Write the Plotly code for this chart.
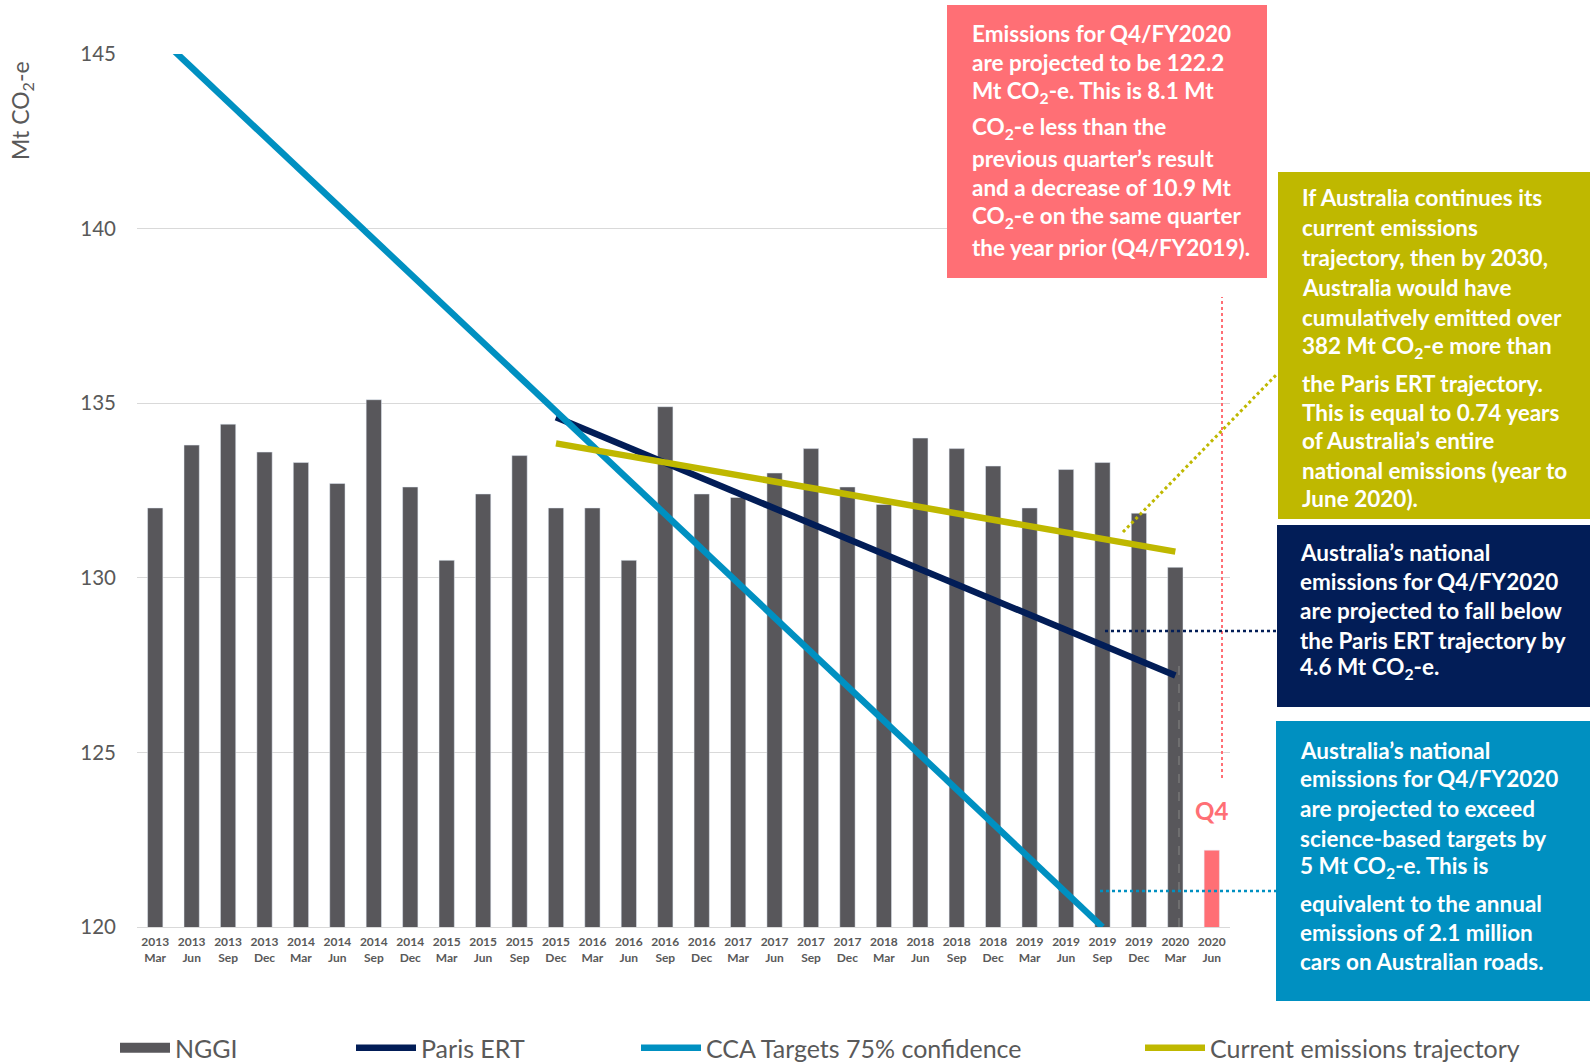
import plotly.graph_objects as go

# ---------------- data ----------------
quarters = ["2013<br>Mar", "2013<br>Jun", "2013<br>Sep", "2013<br>Dec",
            "2014<br>Mar", "2014<br>Jun", "2014<br>Sep", "2014<br>Dec",
            "2015<br>Mar", "2015<br>Jun", "2015<br>Sep", "2015<br>Dec",
            "2016<br>Mar", "2016<br>Jun", "2016<br>Sep", "2016<br>Dec",
            "2017<br>Mar", "2017<br>Jun", "2017<br>Sep", "2017<br>Dec",
            "2018<br>Mar", "2018<br>Jun", "2018<br>Sep", "2018<br>Dec",
            "2019<br>Mar", "2019<br>Jun", "2019<br>Sep", "2019<br>Dec",
            "2020<br>Mar"]
nggi = [132.0, 133.8, 134.4, 133.6, 133.3, 132.7, 135.1, 132.6,
        130.5, 132.4, 133.5, 132.0, 132.0, 130.5, 134.9, 132.4,
        132.3, 133.0, 133.7, 132.6, 132.1, 134.0, 133.7, 133.2,
        132.0, 133.1, 133.3, 131.85, 130.3]
q4_quarter = ["2020<br>Jun"]
q4_value = [122.2]

paris_x = ["2015<br>Dec", "2020<br>Mar"]
paris_y = [134.6, 127.2]
cca_x = ["2013<br>Mar", "2019<br>Sep"]
cca_y = [145.6, 120.0]
current_x = ["2015<br>Dec", "2020<br>Mar"]
current_y = [133.85, 130.75]

y_ticks = [120, 125, 130, 135, 140, 145]

# ---------------- geometry helpers ----------------
W, H = 1590, 1063
L, R, T, B = 137, 1230, 54, 927


def px(x):
    return (x - L) / (R - L)


def py(y):
    return (B - y) / (B - T)


GRAY = "#58575B"
PINK = "#FF6F75"
NAVY = "#021D57"
BLUE = "#0090C1"
OLIVE = "#BFB800"
TXT = "#595959"
FONT = "Lato"

fig = go.Figure()
fig.add_trace(go.Bar(x=quarters, y=nggi, name="NGGI", marker_color=GRAY,
                     width=0.42, showlegend=False))
fig.add_trace(go.Bar(x=q4_quarter, y=q4_value, name="Q4", marker_color=PINK,
                     width=0.42, showlegend=False))
# legend entry for NGGI drawn as a wide block
fig.add_trace(go.Scatter(x=[None], y=[None], mode="lines", name="NGGI",
                         line=dict(color=GRAY, width=16), legend="legend"))
fig.add_trace(go.Scatter(x=paris_x, y=paris_y, mode="lines", name="Paris ERT",
                         line=dict(color=NAVY, width=6.5), legend="legend2"))
fig.add_trace(go.Scatter(x=cca_x, y=cca_y, mode="lines", name="CCA Targets 75% confidence",
                         line=dict(color=BLUE, width=6.5), legend="legend3"))
fig.add_trace(go.Scatter(x=current_x, y=current_y, mode="lines",
                         name="Current emissions trajectory",
                         line=dict(color=OLIVE, width=6.5), legend="legend4"))

shapes = []
annotations = []

# faint dashed marker on last actual bar
shapes.append(dict(type="line", xref="x", yref="y", x0=28.1, x1=28.1, y0=120, y1=127.6,
                   line=dict(color="#777777", width=1.5, dash="dash"), layer="above"))
# pink vertical dotted line
shapes.append(dict(type="line", xref="paper", yref="y", x0=px(1222), x1=px(1222),
                   y0=124.27, y1=138.04, line=dict(color=PINK, width=2, dash="dot")))
# connectors
shapes.append(dict(type="line", xref="paper", yref="paper", x0=px(1123), y0=py(532),
                   x1=px(1278), y1=py(373), line=dict(color=OLIVE, width=3, dash="dot")))
shapes.append(dict(type="line", xref="paper", yref="paper", x0=px(1105), y0=py(631),
                   x1=px(1277), y1=py(631), line=dict(color=NAVY, width=2.5, dash="dot")))
shapes.append(dict(type="line", xref="paper", yref="paper", x0=px(1100), y0=py(891),
                   x1=px(1276), y1=py(891), line=dict(color=BLUE, width=2.5, dash="dot")))

boxes = [
    dict(x0=947, x1=1267, y0=5, y1=278, color=PINK, tx=970,
         lines=[(33, "Emissions for Q4/FY2020"),
                (63, "are projected to be 122.2"),
                (92, "Mt CO<sub>2</sub>-e. This is 8.1 Mt"),
                (128, "CO<sub>2</sub>-e less than the"),
                (158, "previous quarter’s result"),
                (187, "and a decrease of 10.9 Mt"),
                (217, "CO<sub>2</sub>-e on the same quarter"),
                (247, "the year prior (Q4/FY2019).")]),
    dict(x0=1278, x1=1590, y0=172, y1=519, color=OLIVE, tx=1300,
         lines=[(198, "If Australia continues its"),
                (228, "current emissions"),
                (258, "trajectory, then by 2030,"),
                (287, "Australia would have"),
                (317, "cumulatively emitted over"),
                (347, "382 Mt CO<sub>2</sub>-e more than"),
                (383, "the Paris ERT trajectory."),
                (412, "This is equal to 0.74 years"),
                (440, "of Australia’s entire"),
                (470, "national emissions (year to"),
                (498, "June 2020).")]),
    dict(x0=1277, x1=1590, y0=525, y1=707, color=NAVY, tx=1298,
         lines=[(552, "Australia’s national"),
                (581, "emissions for Q4/FY2020"),
                (610, "are projected to fall below"),
                (640, "the Paris ERT trajectory by"),
                (668, "4.6 Mt CO<sub>2</sub>-e.")]),
    dict(x0=1276, x1=1590, y0=721, y1=1001, color=BLUE, tx=1298,
         lines=[(750, "Australia’s national"),
                (778, "emissions for Q4/FY2020"),
                (808, "are projected to exceed"),
                (838, "science-based targets by"),
                (867, "5 Mt CO<sub>2</sub>-e. This is"),
                (903, "equivalent to the annual"),
                (932, "emissions of 2.1 million"),
                (961, "cars on Australian roads.")]),
]
for b in boxes:
    shapes.append(dict(type="rect", xref="paper", yref="paper",
                       x0=px(b["x0"]), x1=px(b["x1"]), y0=py(b["y1"]), y1=py(b["y0"]),
                       fillcolor=b["color"], line=dict(width=0), layer="above"))
    for yy, t in b["lines"]:
        annotations.append(dict(xref="paper", yref="paper", x=px(b["tx"]), y=py(yy),
                                xanchor="left", yanchor="middle", showarrow=False,
                                text=t, font=dict(family=FONT, size=22.5, color="white",
                                                  weight="bold")))

annotations.append(dict(xref="x", yref="y", x="2020<br>Jun", y=123.35, text="Q4",
                        showarrow=False, xanchor="center", yanchor="middle",
                        font=dict(family=FONT, size=24, color=PINK, weight="bold")))
annotations.append(dict(xref="paper", yref="paper", x=px(21), y=py(111),
                        text="Mt CO<sub>2</sub>-e", textangle=-90, showarrow=False,
                        xanchor="center", yanchor="middle",
                        font=dict(family=FONT, size=23, color=TXT)))


def leg(xpix, iw=60):
    return dict(orientation="h", x=px(xpix), y=py(1048), xanchor="left", yanchor="middle",
                font=dict(family=FONT, size=25, color=TXT), bgcolor="rgba(0,0,0,0)",
                itemwidth=iw, borderwidth=0)


fig.update_layout(
    width=W, height=H,
    margin=dict(l=L, r=W - R, t=T, b=H - B, autoexpand=False),
    paper_bgcolor="white", plot_bgcolor="white",
    barmode="overlay",
    font=dict(family=FONT, color=TXT),
    shapes=shapes, annotations=annotations,
    legend=leg(115, 50), legend2=leg(351), legend3=leg(636), legend4=leg(1140),
    xaxis=dict(type="category", categoryorder="array",
               categoryarray=quarters + q4_quarter, range=[-0.5, 29.5],
               showgrid=False, showline=True, linecolor="#D9D9D9", linewidth=1,
               ticks="", tickangle=0, ticklabelstandoff=4,
               tickfont=dict(family=FONT, size=12, color=TXT, weight="bold")),
    yaxis=dict(range=[120, 145], tickvals=y_ticks, showgrid=True, gridcolor="#D9D9D9",
               gridwidth=1, zeroline=False, showline=False, ticks="",
               ticklabelstandoff=20,
               tickfont=dict(family=FONT, size=20.5, color=TXT)),
)

fig.write_html("out.html")
